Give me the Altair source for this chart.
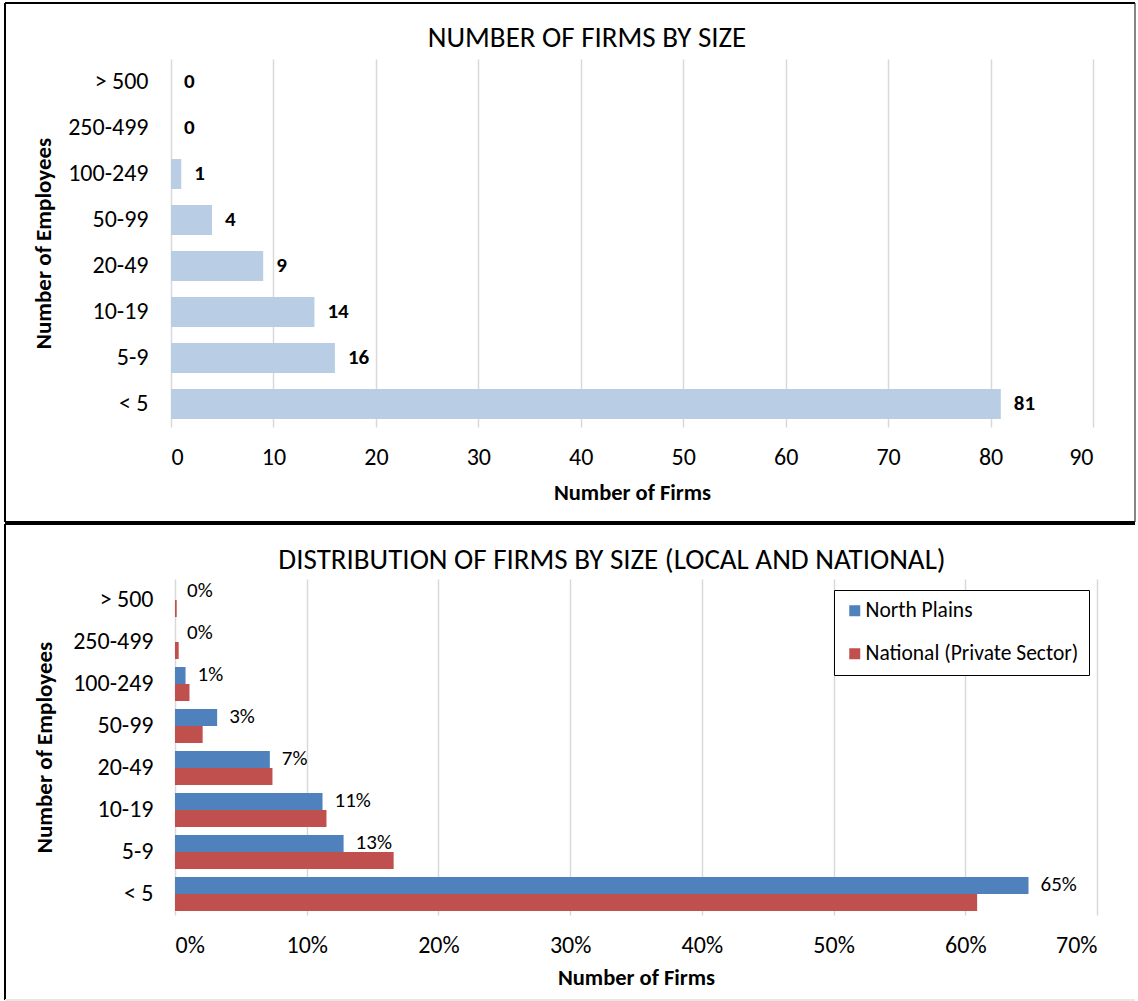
import altair as alt
import pandas as pd

# Employee-size classes, top to bottom
size_classes = ["> 500", "250-499", "100-249", "50-99", "20-49", "10-19", "5-9", "< 5"]

# Number of local firms in each size class
firm_counts = [0, 0, 1, 4, 9, 14, 16, 81]

# Share of firms in each size class
series_names = ["North Plains", "National (Private Sector)"]
north_plains_share = [0.0, 0.0, 0.008, 0.032, 0.072, 0.112, 0.128, 0.648]
national_share = [0.0013, 0.0028, 0.011, 0.021, 0.074, 0.115, 0.166, 0.609]

titles = ["NUMBER OF FIRMS BY SIZE", "DISTRIBUTION OF FIRMS BY SIZE (LOCAL AND NATIONAL)"]

FONT = "Carlito, Calibri, Lato, sans-serif"
BAR_LIGHT = "#B9CDE5"
BLUE = "#4F81BD"
RED = "#C0504D"
GRID = "#D9D9D9"

W = 922
H_TOP = 368
H_BOT = 336
TICK_FS = 24
AXIS_TITLE_FS = 22.5
TITLE_FS = 29
RIGHT_EDGE = 1135 - 171  # right end of the outline, relative to the plot origin

counts_df = pd.DataFrame({"size": size_classes, "firms": firm_counts})
share_df = pd.DataFrame({
    "size": size_classes * 2,
    "series": [series_names[0]] * len(size_classes) + [series_names[1]] * len(size_classes),
    "share": north_plains_share + national_share,
})
one_row = pd.DataFrame({"k": [0]})


def frame(top, bottom, bottom_color="black", right_side=False):
    """Panel outline around the plot."""
    base = alt.Chart(one_row)
    left = -166
    parts = [
        base.mark_rule(color="black", strokeWidth=2).encode(
            x=alt.value(left), x2=alt.value(RIGHT_EDGE), y=alt.value(top)),
        base.mark_rule(color="black", strokeWidth=2).encode(
            x=alt.value(left), y=alt.value(top), y2=alt.value(bottom)),
        base.mark_rule(color=bottom_color, strokeWidth=2).encode(
            x=alt.value(left), x2=alt.value(RIGHT_EDGE), y=alt.value(bottom)),
    ]
    if right_side:
        parts.append(base.mark_rule(color="#333333", strokeWidth=1.2).encode(
            x=alt.value(RIGHT_EDGE), y=alt.value(top), y2=alt.value(bottom)))
    return alt.layer(*parts)


def heading(text, x, y):
    """Panel heading drawn inside the outline."""
    return alt.Chart(pd.DataFrame({"t": [text]})).mark_text(
        fontSize=TITLE_FS, color="black", align="center", baseline="middle", font=FONT
    ).encode(x=alt.value(x), y=alt.value(y), text="t:N")


def y_axis(label_pad, title_pad):
    return alt.Axis(labelFontSize=TICK_FS, labelPadding=label_pad, titleFontSize=23,
                    titleFontWeight="bold", titlePadding=title_pad, domain=False,
                    ticks=False, labelColor="black", titleColor="black")


# ---- Number of firms by size ----
y_top = alt.Y("size:N", sort=size_classes, title="Number of Employees",
              scale=alt.Scale(paddingInner=0.35, paddingOuter=0.175),
              axis=y_axis(23, 12))
x_top = alt.X("firms:Q", title="Number of Firms",
              scale=alt.Scale(domain=[0, 90], nice=False),
              axis=alt.Axis(values=list(range(0, 91, 10)), labelFontSize=TICK_FS,
                            labelPadding=18, titleFontSize=AXIS_TITLE_FS,
                            titleFontWeight="bold", titlePadding=12, domain=False,
                            ticks=False, gridColor=GRID, gridWidth=1.5,
                            labelColor="black", titleColor="black"))

top_bars = alt.Chart(counts_df).mark_bar(color=BAR_LIGHT).encode(x=x_top, y=y_top)
top_labels = alt.Chart(counts_df).mark_text(
    align="left", dx=13, fontSize=21, fontWeight="bold", color="black", font=FONT
).encode(x="firms:Q", y=alt.Y("size:N", sort=size_classes), text="firms:Q")

top_chart = alt.layer(
    top_bars, top_labels,
    frame(-56, 463, right_side=True),
    heading(titles[0], 416, -21),
).properties(width=W, height=H_TOP)

# ---- Distribution of firms by size, local vs national ----
# the lower plot sits 4px further right than the upper one
y_bot = alt.Y("size:N", sort=size_classes, title="Number of Employees",
              scale=alt.Scale(paddingInner=0.19, paddingOuter=0.095),
              axis=y_axis(18, 16))
x_bot = alt.X("share:Q", title="Number of Firms",
              scale=alt.Scale(domain=[0, 0.7], nice=False, range=[4, W + 4]),
              axis=alt.Axis(values=[i / 10 for i in range(8)], format=".0%",
                            labelFontSize=TICK_FS, labelPadding=18.5,
                            titleFontSize=AXIS_TITLE_FS, titleFontWeight="bold",
                            titlePadding=9, domain=False, ticks=False,
                            gridColor=GRID, gridWidth=1.5,
                            labelColor="black", titleColor="black"))
offset_scale = alt.Scale(domain=series_names)

bot_bars = alt.Chart(share_df).mark_bar().encode(
    x=x_bot, y=y_bot,
    yOffset=alt.YOffset("series:N", scale=offset_scale, sort=series_names),
    color=alt.Color("series:N", scale=alt.Scale(domain=series_names, range=[BLUE, RED]),
                    legend=alt.Legend(title=None, orient="none", legendX=663, legendY=11,
                                      symbolType="square", symbolSize=121,
                                      symbolStrokeWidth=0, labelFontSize=21.5,
                                      labelColor="black", labelLimit=400,
                                      rowPadding=20, padding=10, strokeColor="black",
                                      fillColor="white", labelOffset=0)),
)
bot_labels = alt.Chart(share_df).transform_filter(
    alt.datum.series == series_names[0]
).mark_text(align="left", dx=12, fontSize=21, color="black", font=FONT).encode(
    x="share:Q", y=alt.Y("size:N", sort=size_classes),
    yOffset=alt.YOffset("series:N", scale=offset_scale, sort=series_names),
    text=alt.Text("share:Q", format=".0%"),
)

bot_chart = alt.layer(
    bot_bars, bot_labels,
    frame(-55, 421, bottom_color="#E6E6E6"),
    heading(titles[1], 441, -19),
).properties(width=W, height=H_BOT)

chart = alt.vconcat(top_chart, bot_chart, spacing=0).resolve_legend(
    color="independent"
).properties(
    padding={"left": 4, "top": 2, "right": 0, "bottom": 0},
    background="white",
).configure(font=FONT).configure_view(stroke=None)

chart.save("out.html", embed_options={"renderer": "svg", "actions": False})
